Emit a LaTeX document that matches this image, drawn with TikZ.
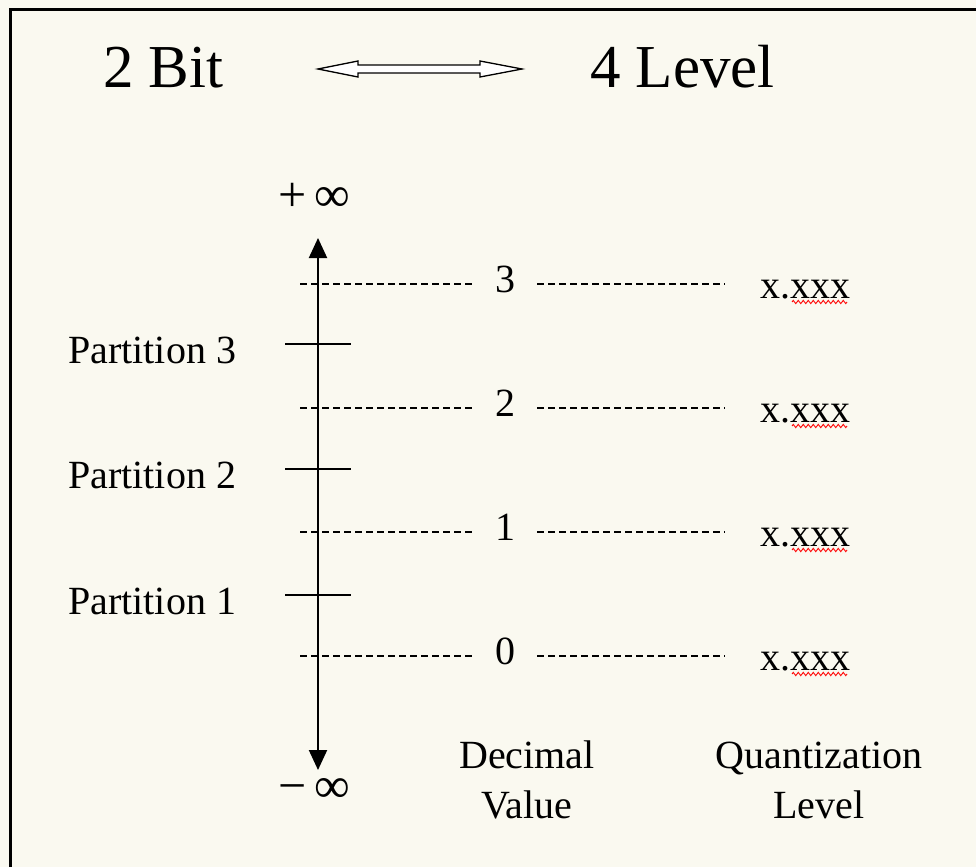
\documentclass[tikz,border=0pt]{standalone}
\usepackage{fontspec}
\setmainfont{Liberation Serif}
\usetikzlibrary{arrows.meta,decorations.pathmorphing}
\definecolor{paper}{RGB}{250,249,240}
\begin{document}
\begin{tikzpicture}[x=1pt,y=-1pt,
  big/.style={font=\fontsize{61}{70}\selectfont,inner sep=0pt},
  txt/.style={font=\fontsize{40}{48}\selectfont,inner sep=0pt},
  inf/.style={font=\fontsize{50}{60}\selectfont,inner sep=0pt},
  level/.style={dash pattern=on 7pt off 4pt,line width=1.5pt},
  tick/.style={line width=1.5pt},
  axis/.style={line width=2pt,{Triangle[width=18pt,length=20pt]}-{Triangle[width=18pt,length=20pt]}},
  squig/.style={red,line width=0.9pt,decorate,decoration={zigzag,segment length=5pt,amplitude=1.6pt}}]
% canvas and frame
\fill[paper] (0,0) rectangle (976,867);
\useasboundingbox (0,0) rectangle (976,867);
\draw[line width=3pt] (10,867) -- (10,10) -- (976,10);

% heading
\node[big,anchor=base west] (bit) at (103,87) {2 Bit};
\node[big,anchor=base west] (lev) at (590,87) {4 Level};
\draw[line width=1.3pt,fill=white,line join=miter]
  (318,69) -- (358,61) -- (358,65) -- (480,65) -- (480,61) -- (522,69)
  -- (480,77) -- (480,73) -- (358,73) -- (358,77) -- cycle;

% number line
\node[inf,anchor=west] (pinf) at (278,197) {+\,∞};
\node[inf,anchor=west] (minf) at (278,790) {−\,∞};
\coordinate (atop) at (318,238);
\coordinate (abot) at (318,770);
\draw[axis] (abot) -- (atop);

% partition boundaries
\foreach \n/\y in {3/344,2/469,1/595}{
  \coordinate (tl\n) at (285,\y);
  \coordinate (tr\n) at (351,\y);
  \draw[tick] (tl\n) -- (tr\n);
  \node[txt,anchor=base west] (part\n) at (68,\y+19) {Partition \n};
}

% reconstruction levels
\foreach \n/\y in {3/284,2/408,1/532,0/656}{
  \coordinate (da\n) at (300,\y);
  \coordinate (db\n) at (472,\y);
  \coordinate (dc\n) at (537,\y);
  \coordinate (dd\n) at (725,\y);
  \draw[level] (da\n) -- (db\n);
  \draw[level] (dc\n) -- (dd\n);
  \node[txt,anchor=base] (dec\n) at (505,\y+8) {\n};
  \node[txt,anchor=base west] (q\n) at (760,\y+14) {x.xxx};
  \coordinate (sa\n) at (792,\y+18);
  \coordinate (sb\n) at (847,\y+18);
  \draw[squig] (sa\n) -- (sb\n);
}

% column captions
\node[txt,anchor=base] (decA) at (527,768) {Decimal};
\node[txt,anchor=base] (decB) at (527,818) {Value};
\node[txt,anchor=base] (quA) at (819,768) {Quantization};
\node[txt,anchor=base] (quB) at (819,818) {Level};
\end{tikzpicture}
\end{document}
